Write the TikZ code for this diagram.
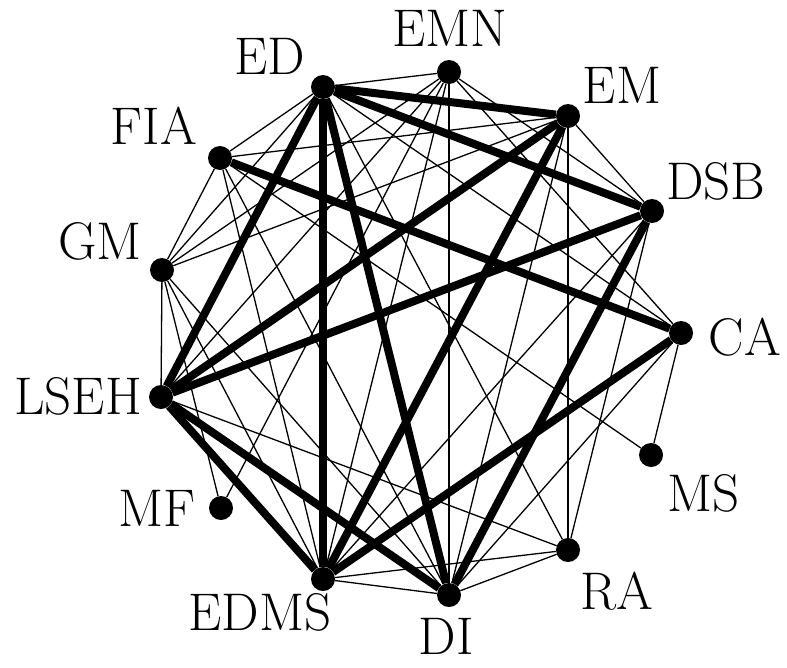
\documentclass[tikz,border=0pt]{standalone}
\begin{document}
\begin{tikzpicture}[x=1pt,y=-1pt,
  vtx/.style={circle,fill=black,inner sep=0pt,minimum size=24pt},
  lbl/.style={font=\fontsize{53}{60}\selectfont,inner sep=0pt},
  thin/.style={line width=1.3pt},
  heavy/.style={line width=8pt}]
\useasboundingbox (0,0) rectangle (787,667);
\node[vtx] (ED) at (323,87) {};
\node[vtx] (EMN) at (449,72) {};
\node[vtx] (EM) at (568,116) {};
\node[vtx] (DSB) at (652,211) {};
\node[vtx] (CA) at (681,333) {};
\node[vtx] (MS) at (651,455) {};
\node[vtx] (RA) at (568,550) {};
\node[vtx] (DI) at (449,595) {};
\node[vtx] (EDMS) at (323,579) {};
\node[vtx] (MF) at (221,508) {};
\node[vtx] (LSEH) at (161,397) {};
\node[vtx] (GM) at (162,270) {};
\node[vtx] (FIA) at (220,158) {};
\node[lbl] (lED) at (270,56) {ED};
\node[lbl] (lEMN) at (450,28) {EMN};
\node[lbl] (lEM) at (622,85) {EM};
\node[lbl] (lDSB) at (716,181) {DSB};
\node[lbl] (lCA) at (745,337) {CA};
\node[lbl] (lMS) at (704,493) {MS};
\node[lbl] (lRA) at (617,591) {RA};
\node[lbl] (lDI) at (446,636) {DI};
\node[lbl] (lEDMS) at (260,612) {EDMS};
\node[lbl] (lMF) at (157,508) {MF};
\node[lbl] (lLSEH) at (78,396) {LSEH};
\node[lbl] (lGM) at (100,241) {GM};
\node[lbl] (lFIA) at (154,126) {FIA};
\foreach \a/\b in {ED/EMN,ED/FIA,ED/GM,ED/CA,ED/RA,
  EMN/DI,EMN/DSB,EMN/MF,EMN/GM,EMN/LSEH,EMN/EDMS,EMN/CA,
  EM/RA,EM/DSB,EM/FIA,EM/GM,EM/DI,
  GM/LSEH,GM/MF,GM/FIA,GM/EDMS,GM/DI,
  CA/MS,CA/DI,FIA/MS,FIA/DI,FIA/EDMS,DSB/EDMS,
  EDMS/DI,EDMS/RA,DI/RA,RA/DSB,RA/LSEH}
  \draw[thin] (\a) -- (\b);
\foreach \a/\b in {ED/EM,ED/DSB,ED/EDMS,ED/DI,ED/LSEH,FIA/CA,EM/LSEH,EM/EDMS,DSB/LSEH,DSB/DI,CA/EDMS,LSEH/EDMS,LSEH/DI}
  \draw[heavy] (\a) -- (\b);
\end{tikzpicture}
\end{document}
